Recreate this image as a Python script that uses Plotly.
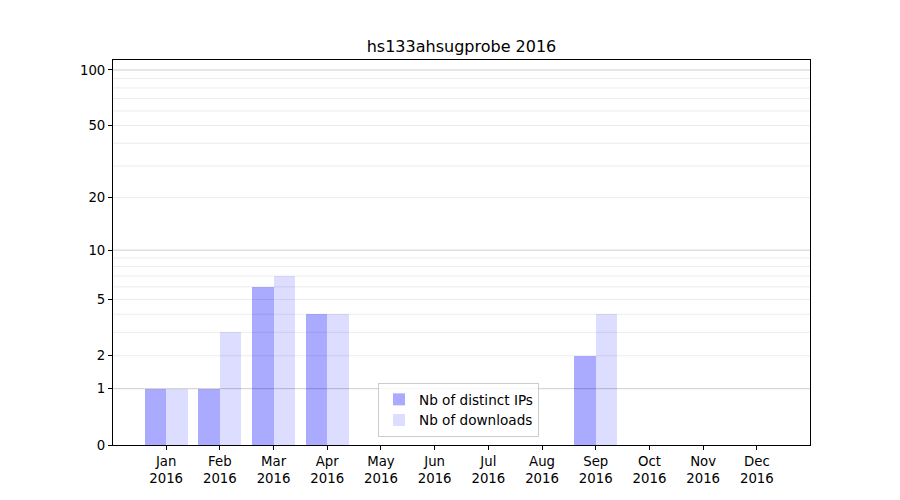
import numpy as np
import plotly.graph_objects as go

months = ["Jan", "Feb", "Mar", "Apr", "May", "Jun", "Jul", "Aug", "Sep", "Oct", "Nov", "Dec"]
year = "2016"
distinct_ips = [1, 1, 6, 4, 0, 0, 0, 0, 2, 0, 0, 0]
downloads = [1, 3, 7, 4, 0, 0, 0, 0, 4, 0, 0, 0]
y_ticks = [0, 1, 2, 5, 10, 20, 50, 100]
major_grid = [1, 10, 100]
minor_grid = [2, 3, 4, 5, 6, 7, 8, 9, 20, 30, 40, 50, 60, 70, 80, 90]

def tr(v):
    return np.log10(1 + np.asarray(v, dtype=float))

x = np.arange(len(months))
fig = go.Figure()
fig.add_trace(go.Bar(x=x - 0.2, y=tr(distinct_ips), width=0.4, name="Nb of distinct IPs",
                     marker=dict(color="#aaaaff", line=dict(width=0))))
fig.add_trace(go.Bar(x=x + 0.2, y=tr(downloads), width=0.4, name="Nb of downloads",
                     marker=dict(color="#ddddff", line=dict(width=0))))

shapes = []
for g in minor_grid:
    shapes.append(dict(type="line", xref="paper", x0=0, x1=1, yref="y", y0=float(tr(g)), y1=float(tr(g)),
                       line=dict(color="rgba(0,0,0,0.08)", width=1), layer="above"))
for g in major_grid:
    shapes.append(dict(type="line", xref="paper", x0=0, x1=1, yref="y", y0=float(tr(g)), y1=float(tr(g)),
                       line=dict(color="rgba(0,0,0,0.2)", width=1), layer="above"))

fig.update_layout(
    width=900, height=500,
    margin=dict(l=105, r=98, t=52, b=63),
    paper_bgcolor="white", plot_bgcolor="white",
    font=dict(family="DejaVu Sans", size=13.3, color="black"),
    title=dict(text="hs133ahsugprobe 2016", x=(105 + 697 / 2) / 900, xanchor="center", y=1 - 38 / 500,
               yanchor="middle", font=dict(size=16)),
    barmode="overlay",
    bargap=0,
    shapes=shapes,
    showlegend=True,
    legend=dict(x=(378 - 113) / 697, y=(445 - 437) / 385, xanchor="left", yanchor="bottom",
                bordercolor="#cccccc", borderwidth=1, bgcolor="rgba(255,255,255,0.8)",
                font=dict(size=13.6), tracegroupgap=0),
)
fig.update_xaxes(range=[-0.99, 11.99], tickmode="array", tickvals=list(x),
                 ticktext=[f"{m}<br>{year}" for m in months],
                 showgrid=False, zeroline=False, showline=True, linecolor="black", linewidth=1,
                 mirror=True, ticks="outside", ticklen=4, tickcolor="black")
fig.update_yaxes(range=[0, 385 / 187.1], tickmode="array", tickvals=[float(v) for v in tr(y_ticks)],
                 ticktext=[str(t) for t in y_ticks],
                 showgrid=False, zeroline=False, showline=True, linecolor="black", linewidth=1,
                 mirror=True, ticks="outside", ticklen=4, tickcolor="black")

fig.write_html("out.html")
